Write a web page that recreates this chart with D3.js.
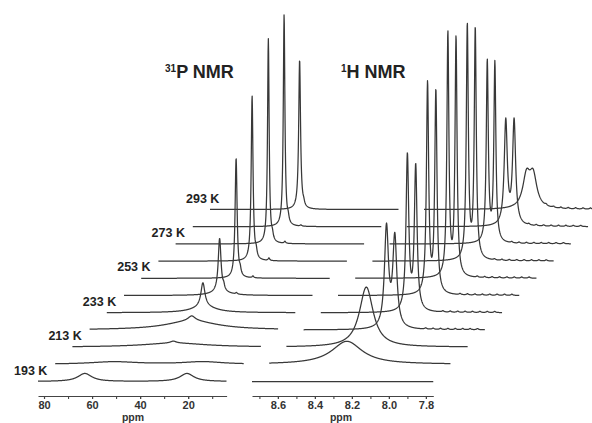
<!DOCTYPE html>
<html>
<head>
<meta charset="utf-8">
<script src="https://cdn.jsdelivr.net/npm/d3@7"></script>
<style>
body { margin: 0; background: #fff; }
svg { display: block; }
.trace { fill: none; stroke: #383838; stroke-width: 1.25; stroke-linejoin: round; }
.axis path, .axis line { stroke: #444; stroke-width: 1.1; }
.axis text { font: bold 11px "Liberation Sans", Arial, sans-serif; fill: #333; }
.lbl { font: bold 12.5px "Liberation Sans", Arial, sans-serif; fill: #222; }
.title { font: bold 18px "Liberation Sans", Arial, sans-serif; fill: #222; }
.unit { font: bold 10.5px "Liberation Sans", Arial, sans-serif; fill: #333; }
</style>
</head>
<body>
<svg id="chart" width="592" height="423"></svg>
<script>
// temperatures, front (193 K) to back (293 K)
var temps = [193, 203, 213, 223, 233, 243, 253, 263, 273, 283, 293];
var labelTemps = [193, 213, 233, 253, 273, 293];

// 31P peaks per temperature: [shift ppm, intensity, half width ppm]
var p31Peaks = [
    [[63, 8, 3.5], [20.5, 8, 3.5]],
    [[58, 2.5, 12], [21, 2.5, 10]],
    [[40, 4, 16], [40.5, 2, 1.5]],
    [[40, 9, 13], [40, 5, 1.8]],
    [[42.5, 24, 1.0], [42, 6, 6]],
    [[42.7, 54, 0.7], [41, 4, 0.4], [35.7, 1.5, 0.4], [42.5, 3, 5]],
    [[43, 120, 0.5], [41.3, 5, 0.4], [36, 1.8, 0.4]],
    [[43.5, 165, 0.45], [41.8, 6, 0.4], [36.5, 2.5, 0.4]],
    [[43.9, 205, 0.4], [42.2, 5, 0.4], [37, 2, 0.4]],
    [[44.5, 212, 0.4], [42.8, 5, 0.4], [37.5, 1.2, 0.4]],
    [[45.2, 150, 0.45], [43.5, 3, 0.4]]
];

// 1H peaks per temperature
var h1Peaks = [
    [],
    [[8.32, 23, 0.1]],
    [[8.308, 60, 0.045]],
    [[8.292, 100, 0.013], [8.247, 90, 0.013]],
    [[8.272, 155, 0.0088], [8.227, 144, 0.0088]],
    [[8.256, 210, 0.0072], [8.211, 202, 0.0072]],
    [[8.239, 243, 0.0065], [8.195, 238, 0.0065]],
    [[8.227, 234, 0.0065], [8.184, 230, 0.0065]],
    [[8.212, 181, 0.0065], [8.171, 179, 0.0065]],
    [[8.205, 104, 0.01], [8.16, 104, 0.01]],
    [[8.186, 31, 0.024], [8.15, 31, 0.024]]
];
// small 1H ripples seen from 223 K upward
var h1Minor = [8.08, 8.04, 8.00, 7.96, 7.92, 7.88, 7.84, 7.80];

var p31Ticks = [80, 60, 40, 20];
var p31Minor = [80, 70, 60, 50, 40, 30, 20, 10];
var h1Ticks = [8.6, 8.4, 8.2, 8.0, 7.8];
var h1MinorTicks = [8.7, 8.6, 8.5, 8.4, 8.3, 8.2, 8.1, 8.0, 7.9, 7.8];

var svg = d3.select("#chart");
var dx = 17.2, dy = -17.2, base0 = 381.5, axisY = 396;

var xP = d3.scaleLinear().domain([82.5, 4]).range([38, 226.6]);
var xH = d3.scaleLinear().domain([8.74, 7.76]).range([252, 433.3]);
var yI = d3.scaleLinear().domain([0, 250]).range([0, -250]);

function lorentz(peaks, ppm) {
    return d3.sum(peaks, function(p) {
	return p[1] / (1 + Math.pow((ppm - p[0]) / p[2], 2));
    });
}

var line = d3.line().x(function(d) { return d[0]; }).y(function(d) { return d[1]; });

function drawTrace(scale, peaks, i) {
    var r = scale.range();
    var pts = d3.range(r[0], r[1], 0.25).map(function(px) {
	var ppm = scale.invert(px);
	return [px + i * dx, base0 + i * dy + yI(lorentz(peaks, ppm))];
    });
    svg.append("path")
	.attr("class", "trace")
	.attr("d", line(pts));
}

temps.forEach(function(t, i) {
    drawTrace(xP, p31Peaks[i], i);
    var hp = h1Peaks[i].slice();
    if (i >= 3) {
	h1Minor.forEach(function(m) { hp.push([m, 1.2, 0.006]); });
    }
    drawTrace(xH, hp, i);
});

// temperature labels
labelTemps.forEach(function(t) {
    var i = temps.indexOf(t);
    svg.append("text")
	.attr("class", "lbl")
	.attr("x", xP.range()[0] + i * dx - 24)
	.attr("y", base0 + i * dy - 7)
	.text(t + " K");
});

// axes
function drawAxis(scale, major, minor, fmt, unitX) {
    var g = svg.append("g").attr("class", "axis")
	.attr("transform", "translate(0," + axisY + ")");
    g.call(d3.axisBottom(scale).tickValues(minor).tickSize(3).tickSizeOuter(0).tickFormat(""));
    var g2 = svg.append("g").attr("class", "axis")
	.attr("transform", "translate(0," + axisY + ")");
    g2.call(d3.axisBottom(scale).tickValues(major).tickSize(3).tickSizeOuter(0).tickPadding(2).tickFormat(fmt));
    g2.select(".domain").remove();
    svg.append("text")
	.attr("class", "unit")
	.attr("x", unitX).attr("y", 421)
	.attr("text-anchor", "middle")
	.text("ppm");
}
drawAxis(xP, p31Ticks, p31Minor, d3.format("d"), 133);
drawAxis(xH, h1Ticks, h1MinorTicks, d3.format(".1f"), 341);

// titles
var t1 = svg.append("text").attr("class", "title").attr("x", 165).attr("y", 78);
t1.append("tspan").attr("font-size", "10px").attr("dy", -6).text("31");
t1.append("tspan").attr("dy", 6).text("P NMR");
var t2 = svg.append("text").attr("class", "title").attr("x", 341).attr("y", 78);
t2.append("tspan").attr("font-size", "10px").attr("dy", -6).text("1");
t2.append("tspan").attr("dy", 6).text("H NMR");
</script>
</body>
</html>
